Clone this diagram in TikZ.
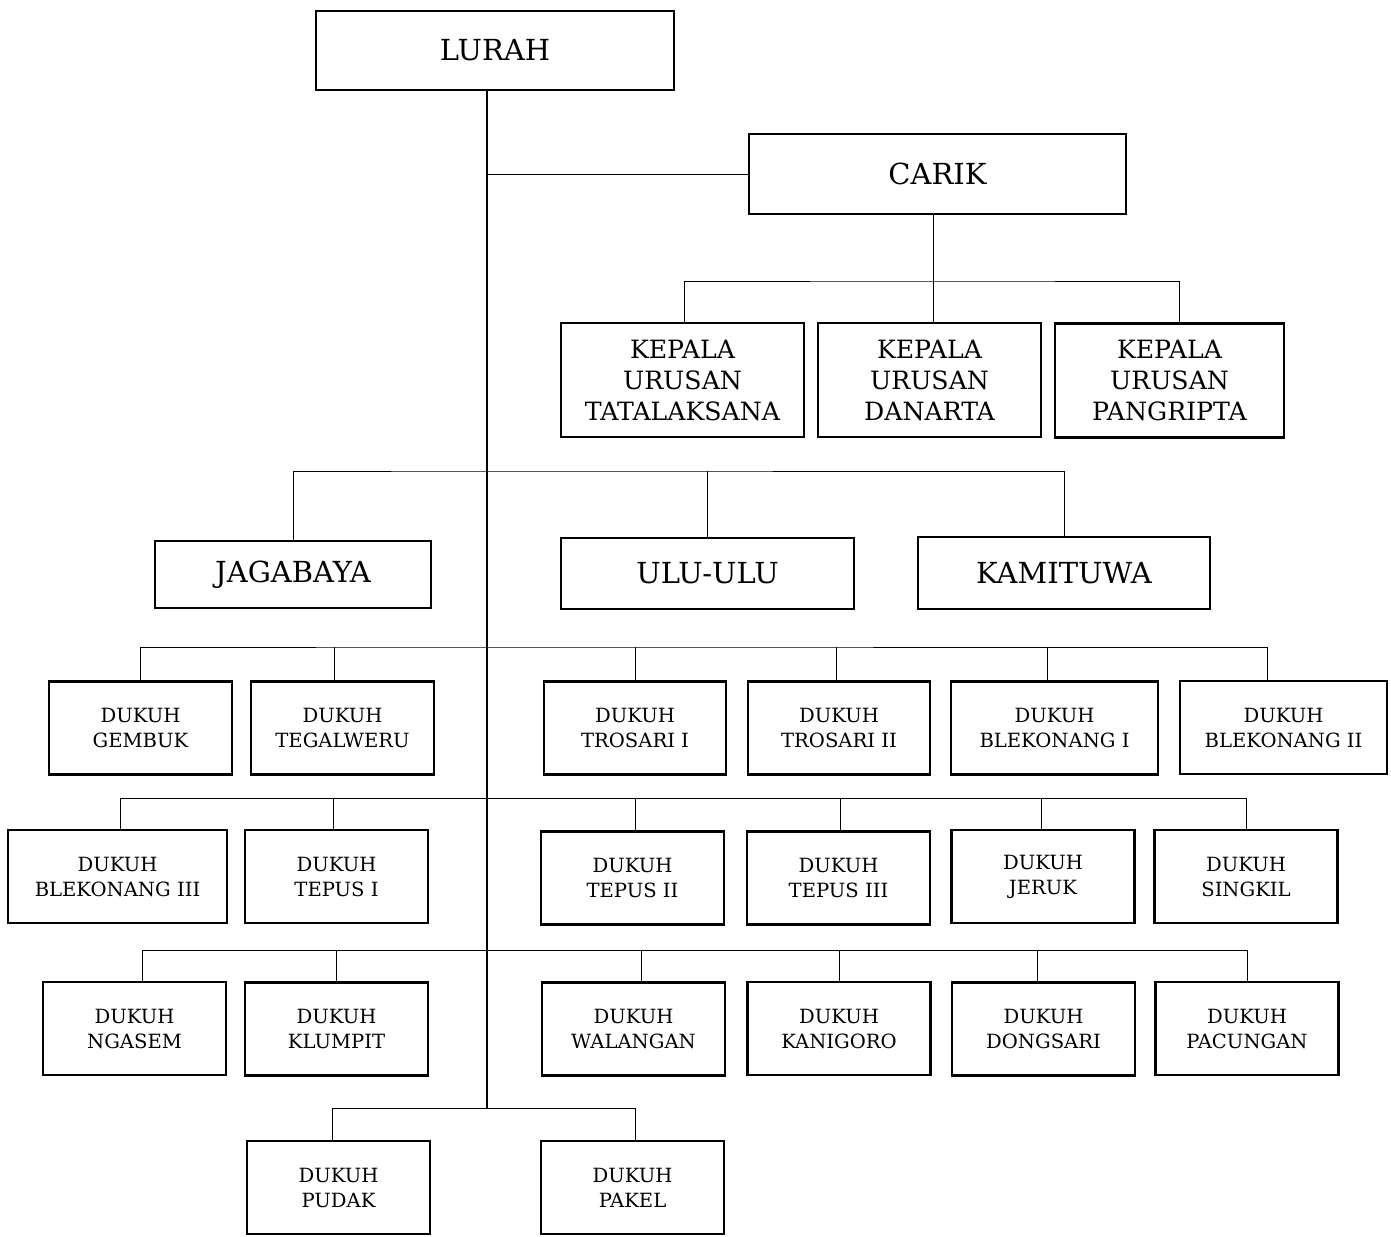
\documentclass[tikz,border=0pt]{standalone}
\usepackage{fontspec}
\setmainfont{DejaVu Serif}
\usepackage{tikz}

\tikzset{
  box/.style={draw, line width=2.6pt, rectangle, align=center, inner sep=2pt},
  bigbox/.style={box, font=\fontsize{29}{34}\selectfont},
  kepbox/.style={box, font=\fontsize{25.2}{31}\selectfont, minimum height=114},
  dukbox/.style={box, font=\fontsize{19.6}{25}\selectfont, minimum width=183, minimum height=93},
  link/.style={line width=1pt},
  trunk/.style={line width=2.8pt}
}

\begin{document}
\begin{tikzpicture}[x=1pt,y=-1pt]
\useasboundingbox (0,0) rectangle (1391,1236);

% top
\node[bigbox, minimum width=358, minimum height=79] (lurah) at (495,50.5) {LURAH};
\node[bigbox, minimum width=377, minimum height=80] (carik) at (937.5,174) {CARIK};

\node[kepbox, minimum width=243] (tatalaksana) at (682.5,380) {KEPALA\\URUSAN\\TATALAKSANA};
\node[kepbox, minimum width=223] (danarta) at (929.5,380) {KEPALA\\URUSAN\\DANARTA};
\node[kepbox, minimum width=229] (pangripta) at (1169.5,380.5) {KEPALA\\URUSAN\\PANGRIPTA};

\node[bigbox, minimum width=276, minimum height=67] (jagabaya) at (293,574.5) {JAGABAYA};
\node[bigbox, minimum width=293, minimum height=71] (ulu) at (707.5,573.5) {ULU-ULU};
\node[bigbox, minimum width=292, minimum height=72] (kamituwa) at (1064,573) {KAMITUWA};

% dukuh
\node[dukbox] (gembuk) at (140.5,728) {DUKUH\\GEMBUK};
\node[dukbox] (tegalweru) at (342.5,728) {DUKUH\\TEGALWERU};
\node[dukbox, minimum width=182] (trosarii) at (635,728) {DUKUH\\TROSARI I};
\node[dukbox, minimum width=182] (trosariii) at (839,728) {DUKUH\\TROSARI II};
\node[dukbox, minimum width=207] (blekonangi) at (1054.5,728) {DUKUH\\BLEKONANG I};
\node[dukbox, minimum width=207] (blekonangii) at (1283.5,727.5) {DUKUH\\BLEKONANG II};

\node[dukbox, minimum width=219] (blekonangiii) at (117.5,876.5) {DUKUH\\BLEKONANG III};
\node[dukbox] (tepusi) at (336.5,876.5) {DUKUH\\TEPUS I};
\node[dukbox] (tepusii) at (632.5,878) {DUKUH\\TEPUS II};
\node[dukbox] (tepusiii) at (838.5,878) {DUKUH\\TEPUS III};
\node[dukbox] (jeruk) at (1043,876.5) {DUKUH\\JERUK};
\node[dukbox] (singkil) at (1246,876.5) {DUKUH\\SINGKIL};

\node[dukbox] (ngasem) at (134.5,1028.5) {DUKUH\\NGASEM};
\node[dukbox] (klumpit) at (336.5,1029) {DUKUH\\KLUMPIT};
\node[dukbox] (walangan) at (633.5,1029) {DUKUH\\WALANGAN};
\node[dukbox] (kanigoro) at (839,1028.5) {DUKUH\\KANIGORO};
\node[dukbox] (dongsari) at (1043.5,1029) {DUKUH\\DONGSARI};
\node[dukbox] (pacungan) at (1247,1028.5) {DUKUH\\PACUNGAN};

\node[dukbox] (pudak) at (338.5,1187.5) {DUKUH\\PUDAK};
\node[dukbox] (pakel) at (632.5,1187.5) {DUKUH\\PAKEL};

% bus lines
\coordinate (kbus) at (933,281);
\coordinate (jbus) at (487,471);
\coordinate (dbusa) at (487,647);
\coordinate (dbusb) at (487,798);
\coordinate (dbusc) at (487,950);
\coordinate (dbusd) at (487,1108);

\draw[trunk] (lurah.south -| dbusd) -- (dbusd);
\draw[link] (carik.west -| jbus) -- (carik.west);

\draw[link] ([xshift=2]tatalaksana.north) |- (kbus) -| ([xshift=10]pangripta.north);
\draw[link] (carik.south -| kbus) -- (kbus |- danarta.north);

\draw[link] (jagabaya.north) |- (jbus) -| (kamituwa.north);
\draw[link] (ulu.north) -- (ulu.north |- jbus);

\draw[link] (gembuk.north) |- (dbusa) -| ([xshift=-16]blekonangii.north);
\foreach \n/\dx in {tegalweru/-8,trosarii/0,trosariii/-3,blekonangi/-7}
  \draw[link] ([xshift=\dx]\n.north) -- ([xshift=\dx]\n.north |- dbusa);

\draw[link] ([xshift=3]blekonangiii.north) |- (dbusb) -| (singkil.north);
\foreach \n/\dx in {tepusi/-3,tepusii/3,tepusiii/2,jeruk/-2}
  \draw[link] ([xshift=\dx]\n.north) -- ([xshift=\dx]\n.north |- dbusb);

\draw[link] ([xshift=8]ngasem.north) |- (dbusc) -| (pacungan.north);
\foreach \n/\dx in {klumpit/0,walangan/8,kanigoro/0,dongsari/-6}
  \draw[link] ([xshift=\dx]\n.north) -- ([xshift=\dx]\n.north |- dbusc);

\draw[link] ([xshift=-6]pudak.north) |- (dbusd) -| ([xshift=3]pakel.north);
\end{tikzpicture}
\end{document}
